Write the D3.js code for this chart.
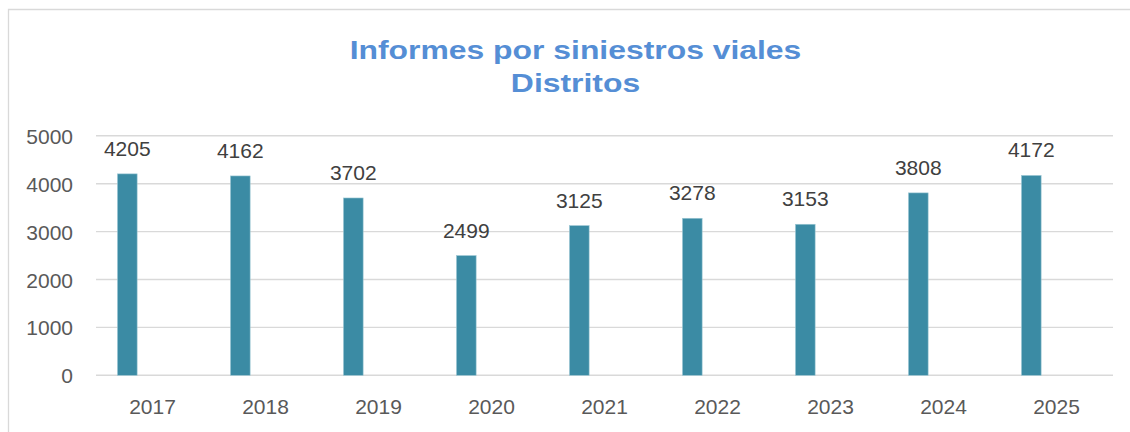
<!DOCTYPE html>
<html>
<head>
<meta charset="utf-8">
<script src="https://cdn.jsdelivr.net/npm/d3@7"></script>
<style>
html,body{margin:0;padding:0;background:#fff;}
svg{display:block;}
</style>
</head>
<body>
<svg id="chart" width="1130" height="432"></svg>
<script>
const categories = ["2017","2018","2019","2020","2021","2022","2023","2024","2025"];
const values = [4205,4162,3702,2499,3125,3278,3153,3808,4172];
const yTicks = [0,1000,2000,3000,4000,5000];
const titleLines = ["Informes por siniestros viales","Distritos"];

const svg = d3.select("#chart");
const W = 1130, H = 432;
const plot = {left:96, right:1113, top:135.8, bottom:375.3};

// outer border (left and top visible)
svg.append("path")
  .attr("d", `M8.5,${H} L8.5,9.5 L${W},9.5`)
  .attr("fill","none").attr("stroke","#d9d9d9").attr("stroke-width",1.3);

const x = d3.scaleBand().domain(categories).range([plot.left, plot.right]).padding(0);
const y = d3.scaleLinear().domain([0,5000]).range([plot.bottom, plot.top]);

// gridlines
svg.append("g").selectAll("line").data(yTicks).join("line")
  .attr("x1", plot.left).attr("x2", plot.right)
  .attr("y1", d=>y(d)).attr("y2", d=>y(d))
  .attr("stroke","#d9d9d9").attr("stroke-width",1.4);

// y axis labels
const yAxis = d3.axisLeft(y).tickValues(yTicks).tickSize(0).tickPadding(0).tickFormat(d3.format("d"));
const gy = svg.append("g").attr("transform",`translate(73,0)`).call(yAxis);
gy.select(".domain").remove();
gy.selectAll("text").attr("font-family","'Liberation Sans', Arial, sans-serif")
  .attr("font-size",21).attr("fill","#595959").attr("dy","0.36em");

// x axis labels
const xAxis = d3.axisBottom(x).tickSize(0).tickPadding(0);
const gx = svg.append("g").attr("transform",`translate(0,414)`).call(xAxis);
gx.select(".domain").remove();
gx.selectAll("text").attr("font-family","'Liberation Sans', Arial, sans-serif")
  .attr("font-size",21).attr("fill","#595959").attr("dy","0");

// bars
const bw = x.bandwidth();
const barOff = bw*0.19, barW = bw*0.174;
svg.append("g").selectAll("rect").data(categories).join("rect")
  .attr("x", d=>x(d)+barOff)
  .attr("width", barW)
  .attr("y", (d,i)=>y(values[i]))
  .attr("height", (d,i)=>y(0)-y(values[i]))
  .attr("fill","#3b8ba4")
  .attr("stroke","#9cc7d4").attr("stroke-width",0.6);

// value labels
svg.append("g").selectAll("text").data(categories).join("text")
  .attr("x", d=>x(d)+barOff+barW/2)
  .attr("y", (d,i)=>y(values[i])-18)
  .attr("text-anchor","middle")
  .attr("font-family","'Liberation Sans', Arial, sans-serif")
  .attr("font-size",21).attr("fill","#404040")
  .text((d,i)=>values[i]);

// title (horizontally stretched like the reference)
svg.append("g").selectAll("text").data(titleLines).join("text")
  .attr("transform",(d,i)=>`translate(575.5,${i===0?59:91.7}) scale(1.25,1)`)
  .attr("x",0).attr("y",0)
  .attr("text-anchor","middle")
  .attr("font-family","'Liberation Sans', Arial, sans-serif")
  .attr("font-weight","bold")
  .attr("font-size",25.5)
  .attr("fill","#558ed5")
  .text(d=>d);
</script>
</body>
</html>
